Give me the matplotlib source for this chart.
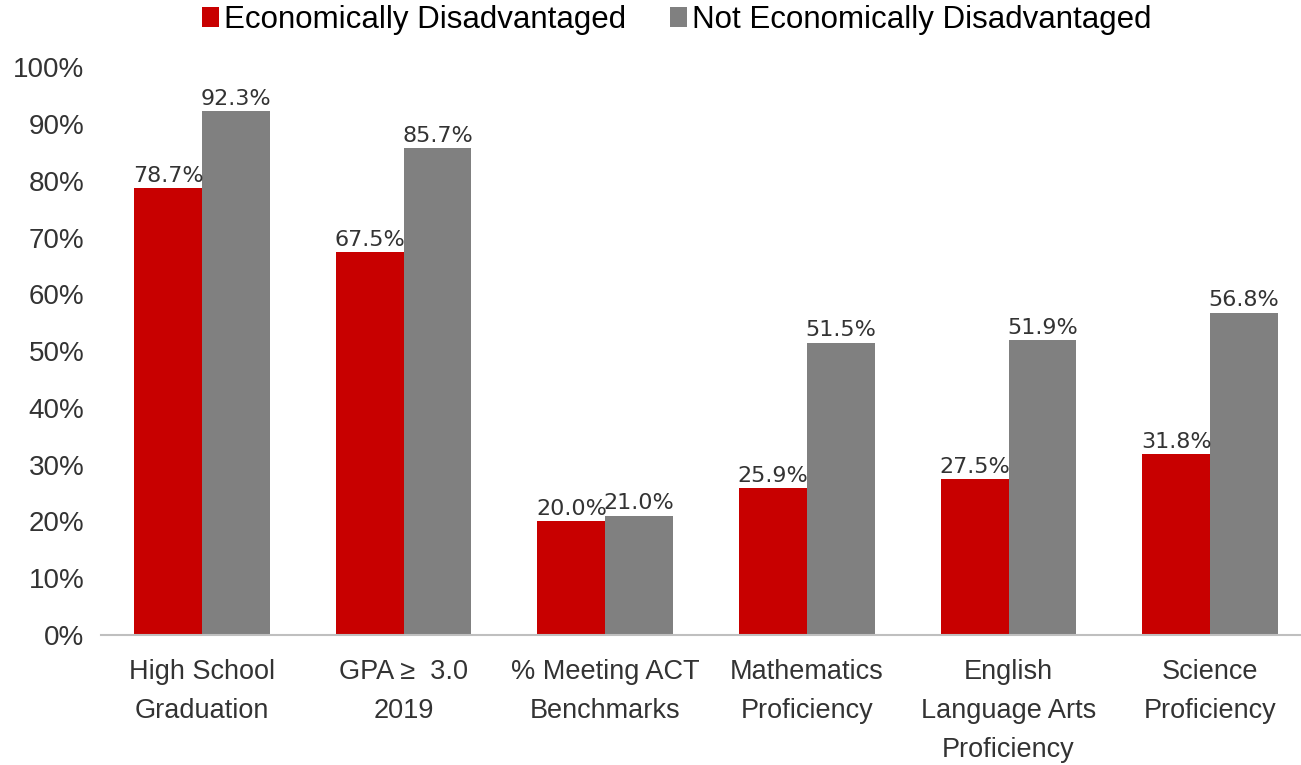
import matplotlib.pyplot as plt
import numpy as np

categories = ['High School\nGraduation', 'GPA \u2265  3.0\n2019', '% Meeting ACT\nBenchmarks',
              'Mathematics\nProficiency', 'English\nLanguage Arts\nProficiency', 'Science\nProficiency']
econ_dis = [78.7, 67.5, 20.0, 25.9, 27.5, 31.8]
not_econ_dis = [92.3, 85.7, 21.0, 51.5, 51.9, 56.8]
yticks = [0, 10, 20, 30, 40, 50, 60, 70, 80, 90, 100]

plt.rcParams['font.family'] = ['Liberation Sans', 'DejaVu Sans']

fig = plt.figure(figsize=(13.01, 7.65), dpi=100)
ax = fig.add_axes([101 / 1301, 0.170, 1 - 101 / 1301, 0.742])

x = np.arange(len(categories))
w = 0.336
b1 = ax.bar(x - w / 2, econ_dis, w, color='#c80000', label='Economically Disadvantaged')
b2 = ax.bar(x + w / 2, not_econ_dis, w, color='#808080', label='Not Economically Disadvantaged')

for bars, vals in [(b1, econ_dis), (b2, not_econ_dis)]:
    for rect, v in zip(bars, vals):
        ax.text(rect.get_x() + rect.get_width() / 2, v + 0.4, f'{v:.1f}%', ha='center', va='bottom',
                fontsize=16, color='#333333', family='DejaVu Sans')

ax.set_ylim(0, 100)
ax.set_xlim(-0.5, 5.45)
ax.set_yticks(yticks)
ax.set_yticklabels([f'{t}%' for t in yticks], fontsize=20, color='#333333')
ax.set_xticks(x)
ax.set_xticklabels(categories, fontsize=19.5, color='#333333', linespacing=1.65, va='top')
ax.tick_params(axis='both', length=0)
ax.tick_params(axis='x', pad=17)
ax.tick_params(axis='y', pad=12)
for s in ['top', 'right', 'left']:
    ax.spines[s].set_visible(False)
ax.spines['bottom'].set_color('#bfbfbf')
ax.spines['bottom'].set_linewidth(1.5)

fig.legend(loc='upper center', bbox_to_anchor=(0.52, 1.03), ncol=2, frameon=False, fontsize=22.5,
           handlelength=0.55, handleheight=0.6, handletextpad=0.15, columnspacing=1.4)

fig.savefig('out.png', dpi=100)
